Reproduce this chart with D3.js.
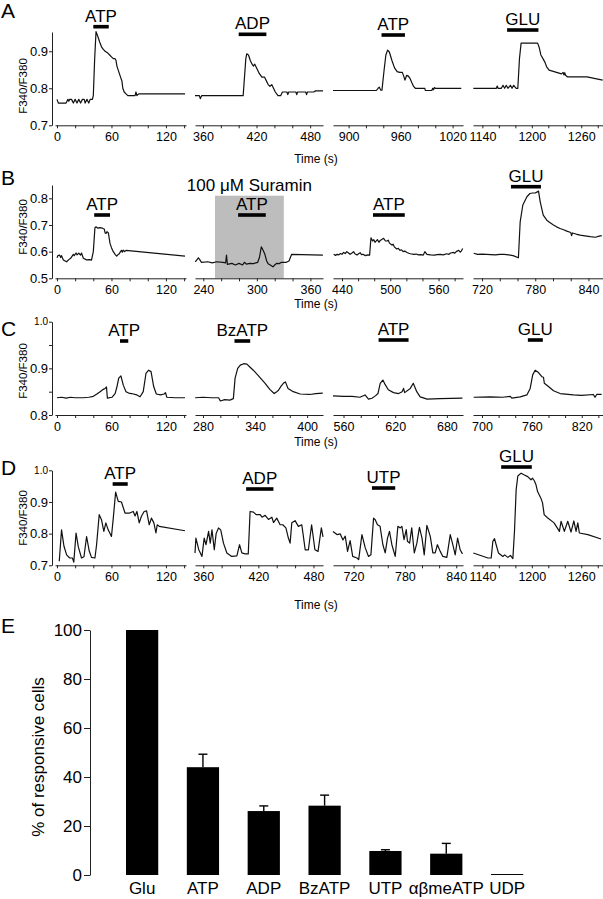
<!DOCTYPE html>
<html><head><meta charset="utf-8">
<script src="https://cdn.jsdelivr.net/npm/d3@7"></script>
<style>
body{margin:0;background:#fff;}
svg text{font-family:"Liberation Sans", Arial, Helvetica, sans-serif;fill:#000;}
</style></head><body>
<svg id="fig" width="603" height="899"></svg>
<script>
// ---------------- DATA ----------------
// time domains (s) of each of the 4 broken-axis segments
const domA = [[-2.2,142.1],[351.1,494.4],[882,1032],[1128.6,1286.4]];
const domB = [[-2.2,142.1],[230.7,374.1],[428.8,590.4],[709.8,856.4]];
const domC = [[-2.2,142.1],[270.8,418.3],[547.8,698.7],[689.2,845.6]];
const domD = [[-2.2,142.1],[351,490.4],[696,847.9],[1128.6,1286.4]];

// labelled x ticks
const xLabA = [[0,60,120],[360,420,480],[900,960,1020],[1140,1200,1260]];
const xLabB = [[0,60,120],[240,300,360],[440,500,560],[720,780,840]];
const xLabC = [[0,60,120],[280,340,400],[560,620,680],[700,760,820]];
const xLabD = [[0,60,120],[360,420,480],[720,780,840],[1140,1200,1260]];

// y ticks
const yTicksA = [0.7,0.8,0.9];
const yTicksB = [0.5,0.6,0.7,0.8];
const yTicksC = [0.8,0.85,0.9,0.95,1.0];
const yLabC = [0.8,0.9,1.0];
const yTicksD = [0.7,0.8,0.9,1.0];
const yDomA = [0.7,0.952], yDomB = [0.5,0.85], yDomC = [0.8,1.0], yDomD = [0.7,1.0];

// stimuli: [label, segment, start(s), end(s)]
const stimA = [["ATP",0,40,57],["ADP",1,400,431],["ATP",2,938,965],["GLU",3,1170,1208]];
const stimB = [["ATP",0,41,58.4],["ATP",1,279,310],["ATP",2,478.5,518],["GLU",3,752.6,786.4]];
const stimC = [["ATP",0,69.4,78.5],["BzATP",1,316.3,334.4],["ATP",2,600.7,635.5],["GLU",3,755.2,773.2]];
const stimD = [["ATP",0,61.3,77.9],["ADP",1,406.7,436.4],["UTP",2,741.5,768.7],["GLU",3,1162.8,1200]];
const suraminB = ["100 \u03bcM Suramin",1,253.1,330.2];

// F340/F380 traces [time, ratio]
const A1 = [[0,0.77],[1.5,0.76],[10,0.76],[11,0.765],[12,0.77],[13,0.765],[14,0.77],[16,0.77],[18,0.76],[20,0.77],[22,0.76],[24,0.77],[26,0.76],[28,0.77],[30,0.77],[31,0.76],[33,0.77],[35,0.76],[36.5,0.77],[39,0.77],[40,0.78],[41.5,0.88],[43,0.953],[45,0.94],[47,0.925],[49,0.912],[51,0.905],[53,0.9],[56,0.895],[58,0.89],[60,0.885],[62,0.88],[64,0.88],[65,0.875],[66,0.86],[68,0.845],[70,0.83],[71.5,0.82],[72.5,0.8],[74,0.79],[76,0.785],[78,0.78],[86,0.78],[87,0.79],[88,0.78],[90,0.785],[141,0.785]];
const A2 = [[351.1,0.78],[356,0.78],[357,0.772],[358.5,0.78],[405,0.78],[406.5,0.83],[408,0.88],[409,0.893],[411,0.89],[413,0.875],[415,0.865],[416.5,0.86],[418,0.865],[419,0.86],[421,0.85],[423,0.84],[426,0.83],[429,0.83],[431,0.82],[433,0.81],[435,0.805],[437,0.81],[439,0.8],[441,0.79],[444,0.78],[447,0.78],[449,0.79],[454,0.79],[455,0.783],[456,0.79],[464,0.79],[465,0.783],[466,0.79],[475,0.79],[476,0.783],[477,0.79],[484,0.79],[486,0.793],[494.4,0.793]];
const A3 = [[882,0.794],[932,0.794],[934,0.8],[935.5,0.803],[937,0.795],[938.5,0.795],[941,0.85],[943,0.89],[945,0.903],[947,0.898],[950,0.875],[953,0.855],[956,0.845],[959,0.843],[962,0.843],[964,0.83],[965,0.822],[967,0.835],[969,0.833],[971,0.826],[973,0.815],[975,0.805],[977,0.8],[988,0.8],[988.5,0.794],[996,0.794],[997,0.8],[998,0.796],[999,0.802],[1000,0.8],[1030,0.8]];
const A4 = [[1129,0.8],[1157,0.8],[1158,0.806],[1159,0.8],[1163,0.8],[1165,0.808],[1167,0.8],[1169,0.808],[1171,0.8],[1174,0.808],[1176,0.8],[1178,0.808],[1181,0.8],[1183,0.8],[1185,0.88],[1187,0.922],[1207,0.922],[1209,0.91],[1211,0.89],[1214,0.878],[1216,0.87],[1218,0.858],[1221,0.849],[1227,0.845],[1236,0.839],[1238,0.843],[1239,0.836],[1240,0.842],[1241,0.835],[1243,0.831],[1267,0.831],[1286,0.822]];

const B1 = [[0,0.577],[1,0.585],[3,0.587],[4,0.578],[5,0.585],[7,0.569],[10.6,0.562],[13,0.57],[15,0.575],[18,0.59],[19,0.585],[21,0.595],[22,0.588],[24,0.594],[26,0.587],[27,0.595],[29,0.575],[32.6,0.569],[36,0.57],[38,0.568],[40,0.6],[41.8,0.69],[43,0.693],[45,0.688],[47.3,0.69],[50,0.688],[52,0.685],[53,0.67],[54,0.668],[55,0.675],[56.6,0.67],[58.4,0.631],[60,0.615],[62,0.6],[64,0.59],[65.7,0.583],[67,0.588],[68,0.59],[70,0.6],[71,0.605],[72,0.598],[73,0.606],[74.5,0.6],[76,0.605],[141,0.583]];
const B2 = [[231,0.562],[234.5,0.577],[236,0.57],[238,0.56],[245,0.562],[250,0.558],[255,0.562],[262,0.56],[265,0.558],[266,0.587],[267,0.552],[272,0.556],[276,0.55],[280,0.556],[284,0.55],[286,0.56],[288.5,0.553],[292,0.556],[296,0.555],[301,0.56],[303,0.58],[305,0.618],[307,0.605],[309,0.59],[311,0.565],[312.6,0.555],[315,0.55],[318,0.543],[320,0.55],[322,0.556],[325,0.555],[327.6,0.56],[333,0.56],[336,0.565],[339,0.59],[374,0.587]];
const B3 = [[429.6,0.59],[432,0.586],[434,0.59],[436,0.588],[438,0.593],[440,0.59],[442,0.597],[444,0.593],[446,0.6],[448,0.595],[450,0.59],[452,0.594],[454.4,0.6],[456,0.592],[458.6,0.587],[460.5,0.592],[462.7,0.596],[464,0.589],[466,0.59],[469,0.585],[472,0.588],[474.3,0.587],[476,0.652],[478,0.64],[479.5,0.645],[481,0.635],[484,0.645],[486,0.635],[487.5,0.642],[489,0.645],[491.7,0.65],[494,0.64],[496,0.64],[497.5,0.643],[499,0.632],[502,0.625],[503.5,0.628],[505,0.618],[508,0.61],[510,0.612],[512,0.605],[514,0.607],[516,0.6],[518,0.602],[520.7,0.597],[523,0.594],[525,0.592],[529,0.59],[532,0.591],[535,0.588],[538,0.589],[541,0.587],[543,0.6],[545.6,0.59],[550,0.588],[555,0.587],[558,0.589],[562,0.59],[566,0.588],[570,0.592],[573,0.59],[575,0.595],[578.6,0.597],[580,0.594],[582,0.6],[585,0.605],[587,0.598],[588.5,0.603],[590,0.612]];
const B4 = [[710.6,0.594],[715,0.59],[720,0.591],[725,0.59],[730,0.589],[735,0.588],[740,0.59],[745,0.59],[750,0.588],[755,0.585],[761,0.577],[763,0.712],[766,0.775],[770.6,0.806],[774,0.818],[777,0.82],[780,0.82],[783.7,0.827],[785.6,0.787],[789,0.737],[793,0.718],[796,0.71],[800.5,0.7],[804,0.693],[808,0.687],[812,0.682],[815.6,0.677],[820,0.672],[821,0.66],[822,0.67],[826,0.666],[830.6,0.662],[836,0.659],[841.9,0.656],[848,0.654],[852,0.658],[855,0.66]];

const C1 = [[0,0.837],[5,0.838],[10,0.836],[15,0.838],[20,0.837],[29,0.837],[35,0.838],[40,0.84],[44,0.845],[47.5,0.85],[51,0.855],[53,0.857],[54.5,0.86],[55.5,0.836],[60.5,0.838],[64,0.846],[66,0.86],[68,0.879],[70.4,0.884],[73,0.864],[76,0.85],[79,0.847],[82,0.846],[88,0.843],[91.5,0.839],[95,0.85],[98,0.889],[101,0.896],[103.6,0.893],[106.5,0.861],[109.4,0.845],[114,0.843],[118,0.845],[119.5,0.848],[121,0.838],[130,0.837],[141,0.837]];
const C2 = [[271,0.837],[280,0.838],[290,0.837],[298,0.837],[300,0.83],[305,0.833],[311,0.832],[315,0.835],[317,0.879],[320,0.9],[323,0.907],[327,0.91],[330.6,0.909],[334,0.903],[338,0.896],[344,0.884],[351.6,0.868],[357,0.855],[362,0.846],[365,0.85],[367,0.853],[370,0.862],[372.6,0.868],[375,0.871],[378,0.857],[384,0.85],[392,0.845],[403,0.844],[410,0.846],[418,0.847]];
const C3 = [[547.8,0.841],[560,0.84],[570,0.84],[579,0.838],[585,0.843],[589,0.834],[593,0.836],[597,0.841],[600,0.846],[602.6,0.868],[605.7,0.875],[608.4,0.865],[612,0.854],[618,0.848],[624,0.846],[628,0.85],[629.7,0.857],[631,0.848],[637.5,0.857],[641,0.868],[645,0.85],[649,0.839],[657,0.834],[672,0.835],[698,0.836]];
const C4 = [[690,0.838],[710,0.839],[725,0.838],[734,0.84],[736,0.836],[746,0.839],[754,0.843],[758,0.857],[761,0.886],[764,0.896],[768,0.891],[772,0.882],[774,0.881],[775,0.868],[780,0.861],[786,0.852],[794,0.846],[810,0.843],[820,0.842],[834,0.844],[836,0.838],[838,0.844],[844,0.844]];

const D1 = [[2.5,0.713],[5,0.812],[7.7,0.76],[10.6,0.733],[14,0.723],[17,0.723],[18.5,0.71],[21,0.802],[23.5,0.758],[27,0.723],[29.7,0.727],[32.6,0.791],[35.5,0.745],[38,0.725],[41.8,0.723],[43.6,0.765],[46.5,0.86],[49,0.844],[51.6,0.807],[53.8,0.834],[56.4,0.812],[60,0.791],[62,0.849],[64.6,0.931],[67.5,0.902],[71,0.9],[74.9,0.865],[80,0.865],[84,0.87],[86,0.856],[88,0.87],[90.6,0.834],[93,0.855],[96,0.87],[98.7,0.872],[101.6,0.828],[104,0.849],[106.7,0.834],[109,0.802],[110.4,0.828],[112.6,0.823],[141,0.809]];
const D2 = [[351,0.739],[352,0.786],[355,0.75],[358.6,0.728],[361,0.786],[363,0.765],[365.8,0.807],[367.6,0.77],[369.5,0.812],[372,0.749],[374,0.8],[376.6,0.818],[379,0.812],[382,0.77],[385.7,0.739],[391,0.728],[396.6,0.73],[399.5,0.765],[402,0.739],[405.6,0.736],[409,0.736],[411,0.87],[414.7,0.868],[417.6,0.86],[422,0.86],[424,0.852],[427.4,0.858],[431,0.845],[434.7,0.852],[436.5,0.835],[440,0.849],[443.7,0.828],[446.6,0.828],[450,0.818],[452.7,0.786],[454.6,0.77],[456.4,0.834],[460,0.841],[463.6,0.823],[467.3,0.828],[469,0.792],[471,0.749],[474.5,0.749],[478,0.828],[481.6,0.749],[485,0.744],[488.6,0.818],[490.4,0.79]];
const D3 = [[696,0.807],[700.6,0.797],[704.5,0.799],[707.6,0.78],[710.3,0.792],[713,0.744],[716,0.778],[719,0.728],[724,0.723],[726,0.718],[729.8,0.797],[733.7,0.755],[737.5,0.728],[740.3,0.733],[743.4,0.849],[745.3,0.844],[748,0.828],[751,0.823],[754.3,0.765],[757,0.739],[759.7,0.786],[762,0.807],[764.8,0.765],[768.7,0.728],[771.8,0.823],[774.6,0.818],[776.5,0.823],[779,0.781],[781.6,0.813],[783,0.776],[785.5,0.77],[788,0.818],[791,0.739],[794,0.77],[797,0.82],[800,0.786],[802.6,0.733],[805.7,0.826],[809.6,0.792],[812.7,0.739],[815.4,0.739],[818,0.765],[821.3,0.744],[824.4,0.728],[829,0.725],[833,0.797],[836,0.765],[838.8,0.733],[841.6,0.786],[844.6,0.749],[847.3,0.736]];
const D4 = [[1129,0.739],[1146.7,0.723],[1150.7,0.723],[1152.7,0.776],[1154.7,0.784],[1156.7,0.765],[1159.5,0.739],[1164.8,0.728],[1167,0.733],[1170.9,0.725],[1174,0.731],[1177,0.721],[1179,0.81],[1181,0.939],[1183,0.982],[1187,0.991],[1191,0.985],[1195,0.98],[1199,0.97],[1201,0.975],[1203,0.967],[1205,0.955],[1207,0.933],[1211,0.912],[1213,0.897],[1215,0.86],[1219,0.85],[1227,0.834],[1233.5,0.807],[1235.5,0.839],[1239.5,0.807],[1243.6,0.839],[1247.6,0.805],[1251,0.84],[1253.7,0.807],[1255.8,0.834],[1257.7,0.802],[1268,0.797],[1284,0.783]];

// Panel E
const catsE = ["Glu","ATP","ADP","BzATP","UTP","\u03b1\u03b2meATP","UDP"];
const valsE = [100,44,26.1,28.3,9.8,8.7,0.4];
const errE  = [0,5.3,2.1,4.3,0.5,4.2,0];
const yTicksE = [0,20,40,60,80,100];

// ---------------- LAYOUT ----------------
const FONT_TICK_Y = 13, FONT_TICK_X = 12.5, FONT_STIM = 17, FONT_LETTER = 21, FONT_TITLE = 11.5;
const segX = [[55,186],[195,323],[333,463],[473,603]];
const panels = [
  {id:"A", traces:[A1,A2,A3,A4], dom:domA, xLab:xLabA, yDom:yDomA, yRange:[125.3,32], yTicks:yTicksA, yLab:yTicksA,
   stim:stimA, stimY:[26.7,34.3,35,30], letterY:18, titleY:86, timeY:163},
  {id:"B", traces:[B1,B2,B3,B4], dom:domB, xLab:xLabB, yDom:yDomB, yRange:[278.3,185], yTicks:yTicksB, yLab:yTicksB,
   stim:stimB, stimY:[215,215,215,186.7], letterY:185, titleY:227, timeY:308},
  {id:"C", traces:[C1,C2,C3,C4], dom:domC, xLab:xLabC, yDom:yDomC, yRange:[415,321.7], yTicks:yTicksC, yLab:yLabC,
   stim:stimC, stimY:[341,341,340,340], letterY:336, titleY:371, timeY:446},
  {id:"D", traces:[D1,D2,D3,D4], dom:domD, xLab:xLabD, yDom:yDomD, yRange:[565.3,470.3], yTicks:yTicksD, yLab:yTicksD,
   stim:stimD, stimY:[484,489,488,467], letterY:475, titleY:518, timeY:609}
];

const svg = d3.select("#fig");
const AXIS = "#222";

function styleAxis(g, fs){
  g.select(".domain").attr("stroke", AXIS).attr("stroke-width", 1);
  g.selectAll(".tick line").attr("stroke", AXIS).attr("stroke-width", 1);
  g.selectAll(".tick text").attr("font-size", fs).attr("fill", "#000");
}

panels.forEach(p => {
  const g = svg.append("g");
  const y = d3.scaleLinear().domain(p.yDom).range(p.yRange);
  const xs = p.dom.map((dom, i) => d3.scaleLinear().domain(dom).range(segX[i]));

  // suramin shading (panel B)
  if (p.id === "B") {
    const xsS = xs[suraminB[1]];
    g.append("rect").attr("x", xsS(suraminB[2])).attr("width", xsS(suraminB[3]) - xsS(suraminB[2]))
      .attr("y", 195.7).attr("height", p.yRange[0] - 195.7).attr("fill", "#bdbdbd");
    g.append("text").attr("x", (xsS(suraminB[2]) + xsS(suraminB[3])) / 2).attr("y", 191)
      .attr("text-anchor", "middle").attr("font-size", FONT_STIM).text(suraminB[0]);
  }

  // y axis
  const ya = g.append("g").attr("transform", "translate(52,0)")
    .call(d3.axisLeft(y).tickValues(p.yTicks).tickSize(3).tickSizeOuter(0).tickPadding(1)
      .tickFormat(d => p.yLab.includes(d) ? d3.format(".1f")(d) : ""));
  styleAxis(ya, FONT_TICK_Y);
  ya.selectAll(".tick text").filter(d => d === 1).attr("font-size", 10);

  // x axes + traces
  xs.forEach((x, i) => {
    const labs = p.xLab[i];
    const ticks = d3.range(labs[0], p.dom[i][1] + 0.001, 20);
    const xa = g.append("g").attr("transform", `translate(0,${p.yRange[0]})`)
      .call(d3.axisBottom(x).tickValues(ticks).tickSize(3).tickSizeOuter(0).tickPadding(4)
        .tickFormat(d => labs.includes(d) ? d : ""));
    styleAxis(xa, FONT_TICK_X);
    g.append("path").datum(p.traces[i])
      .attr("d", d3.line().x(d => x(d[0])).y(d => y(d[1])))
      .attr("fill", "none").attr("stroke", "#111").attr("stroke-width", 1.2).attr("stroke-linejoin", "round");
  });

  // stimulus bars + labels
  p.stim.forEach((s, k) => {
    const x = xs[s[1]];
    const by = p.stimY[k];
    g.append("rect").attr("x", x(s[2])).attr("width", x(s[3]) - x(s[2]))
      .attr("y", by - 1.8).attr("height", 3.6).attr("fill", "#000");
    g.append("text").attr("x", (x(s[2]) + x(s[3])) / 2).attr("y", by - 5)
      .attr("text-anchor", "middle").attr("font-size", FONT_STIM).text(s[0]);
  });

  // panel letter, y title, x title
  g.append("text").attr("x", 1).attr("y", p.letterY).attr("font-size", FONT_LETTER).text(p.id);
  g.append("text").attr("transform", `translate(27,${p.titleY}) rotate(-90)`)
    .attr("text-anchor", "middle").attr("font-size", FONT_TITLE).text("F340/F380");
  g.append("text").attr("x", 316).attr("y", p.timeY).attr("text-anchor", "middle")
    .attr("font-size", 12).text("Time (s)");
});

// ---------------- PANEL E ----------------
const gE = svg.append("g");
const yE = d3.scaleLinear().domain([0, 100]).range([875, 630]);
const xE = d3.scaleBand().domain(catsE).range([111.7, 537.5]).paddingInner(0.47).paddingOuter(0.235);

const yaE = gE.append("g").attr("transform", "translate(90,0)")
  .call(d3.axisLeft(yE).tickValues(yTicksE).tickSize(6).tickSizeOuter(0).tickPadding(2));
styleAxis(yaE, 17);

gE.selectAll("rect.bar").data(catsE).enter().append("rect")
  .attr("class", "bar")
  .attr("x", d => xE(d)).attr("width", xE.bandwidth())
  .attr("y", (d, i) => yE(valsE[i])).attr("height", (d, i) => yE(0) - yE(valsE[i]))
  .attr("fill", "#000");

catsE.forEach((c, i) => {
  if (errE[i] <= 0) return;
  const cx = xE(c) + xE.bandwidth() / 2;
  gE.append("line").attr("x1", cx).attr("x2", cx)
    .attr("y1", yE(valsE[i])).attr("y2", yE(valsE[i] + errE[i]))
    .attr("stroke", "#000").attr("stroke-width", 1.4);
  gE.append("line").attr("x1", cx - 4.5).attr("x2", cx + 4.5)
    .attr("y1", yE(valsE[i] + errE[i])).attr("y2", yE(valsE[i] + errE[i]))
    .attr("stroke", "#000").attr("stroke-width", 1.4);
});

gE.selectAll("text.cat").data(catsE).enter().append("text")
  .attr("class", "cat")
  .attr("x", d => xE(d) + xE.bandwidth() / 2).attr("y", 894)
  .attr("text-anchor", "middle").attr("font-size", 17).text(d => d);

gE.append("text").attr("x", 1).attr("y", 633).attr("font-size", FONT_LETTER).text("E");
gE.append("text").attr("transform", "translate(44,757) rotate(-90)")
  .attr("text-anchor", "middle").attr("font-size", 17).text("% of responsive cells");
</script>
</body></html>
